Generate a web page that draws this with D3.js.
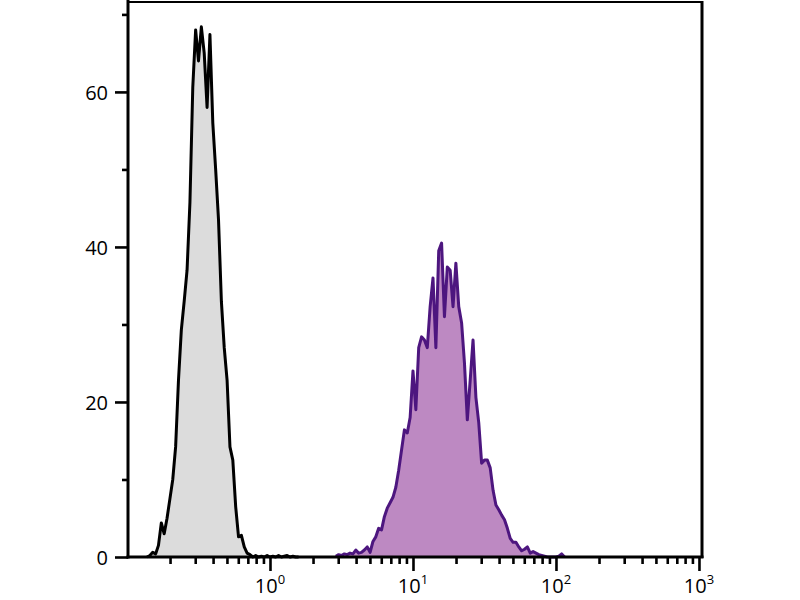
<html>
<head>
    <meta http-equiv='Content-Type' content='text/html; charset=utf-8'>
    <script src="https://d3js.org/d3.v7.min.js" charset="utf-8"></script>

    <style>

    body {
        margin: 0px;
        background: #ffffff;
    }

    svg text {
        font-family: "Open Sans", sans-serif;
        font-size: 20px;
        fill: #000000;
    }

    .axis path, .axis line {
        stroke: #000000;
        stroke-width: 2.6px;
    }

    .frame {
        fill: none;
        stroke: #000000;
    }

    </style>
</head>

<body>

    <script>

    var w = 800;
    var h = 600;

    /* Histogram bins are evenly spaced in log10(fluorescence); one count per bin */
    var binStep = 0.02;

    /* Unstained control (grey), first bin centre at log10 = -0.86 */
    var controlStart = -0.86;
    var controlCounts = [
        0, 0.2, 0.6, 0.4, 1.5, 4.4, 3.0, 5.0, 7.5, 10.0,
        14.2, 22.8, 29.3, 33.0, 37.0, 45.7, 60.6, 68.0, 64.0, 68.4,
        65.0, 58.0, 67.4, 56.0, 50.0, 43.5, 33.0, 27.0, 22.8, 14.2,
        12.5, 6.5, 2.6, 2.8, 1.3, 0.5, 0.3, 0, 0.2, 0,
        0.1, 0, 0.2, 0, 0.1, 0, 0.2, 0, 0.1, 0.2,
        0, 0.1, 0, 0
    ];

    /* Stained sample (purple), first bin centre at log10 = 0.46 */
    var stainedStart = 0.46;
    var stainedCounts = [
        0.1, 0.3, 0.2, 0.4, 0.3, 0.5, 0.4, 0.9, 0.5, 0.6,
        0.9, 1.3, 0.6, 2.0, 2.6, 3.7, 3.5, 5.2, 6.3, 7.0,
        7.7, 9.0, 11.2, 13.8, 16.4, 16.0, 18.0, 24.0, 19.0, 27.0,
        28.4, 28.0, 27.0, 32.3, 36.0, 27.0, 39.5, 40.5, 31.0, 37.4,
        37.0, 32.3, 37.9, 32.3, 30.2, 25.0, 17.7, 22.8, 28.0, 20.6,
        17.3, 12.1, 12.5, 12.5, 11.5, 8.6, 6.7, 6.1, 5.4, 4.8,
        3.7, 2.4, 1.9, 1.9, 1.3, 0.8, 1.0, 1.3, 0.5, 0.7,
        0.5, 0.3, 0.2, 0.1, 0, 0, 0, 0, 0.1, 0.4,
        0
    ];

    /* Axis ticks */
    var yMajorTicks = [0, 20, 40, 60];
    var yMinorTicks = [10, 30, 50, 70];
    var xMajorExponents = [0, 1, 2, 3];
    var xMinorMultipliers = [2, 3, 4, 5, 6, 7, 8, 9];
    var xMinorDecades = [0.1, 1, 10, 100];

    /* Scales */
    var x = d3.scaleLog().domain([0.1, 1050]).range([127, 702]);
    var y = d3.scaleLinear().domain([0, 71.6]).range([557, 2]);

    var svg = d3.select("body")
        .append("svg")
        .attr("width", w)
        .attr("height", h);

    function toPoints(start, counts) {
        return counts.map(function(c, i) {
            return { v: Math.pow(10, start + i * binStep), c: c };
        });
    }

    var area = d3.area()
        .x(function(d) { return x(d.v); })
        .y0(y(0))
        .y1(function(d) { return y(d.c); });

    var line = d3.line()
        .x(function(d) { return x(d.v); })
        .y(function(d) { return y(d.c); });

    var series = [
        { pts: toPoints(controlStart, controlCounts), fill: "#dcdcdc", stroke: "#000000" },
        { pts: toPoints(stainedStart, stainedCounts), fill: "#bd89c2", stroke: "#4d167f" }
    ];

    series.forEach(function(s) {
        svg.append("path")
            .datum(s.pts)
            .attr("d", area)
            .attr("fill", s.fill);
        svg.append("path")
            .datum(s.pts)
            .attr("d", line)
            .attr("fill", "none")
            .attr("stroke", s.stroke)
            .attr("stroke-width", 3)
            .attr("stroke-linejoin", "round");
    });

    /* Top and right frame */
    svg.append("line").attr("class", "frame")
        .attr("x1", 127).attr("x2", 703).attr("y1", 2).attr("y2", 2)
        .attr("stroke-width", 2);
    svg.append("line").attr("class", "frame")
        .attr("x1", 702).attr("x2", 702).attr("y1", 1).attr("y2", 558)
        .attr("stroke-width", 3);

    /* Y axis */
    var yAxis = svg.append("g")
        .attr("class", "axis")
        .attr("transform", "translate(128,0)")
        .call(d3.axisLeft(y).tickValues(yMajorTicks).tickSize(13).tickPadding(7).tickSizeOuter(0));
    yAxis.select(".domain").remove();
    yAxis.selectAll(".tick text").attr("dy", "0.36em");

    svg.append("g")
        .attr("class", "axis")
        .attr("transform", "translate(128,0)")
        .call(d3.axisLeft(y).tickValues(yMinorTicks).tickSize(6).tickFormat(""))
        .select(".domain").remove();

    svg.append("line")
        .attr("x1", 128).attr("x2", 128).attr("y1", 0).attr("y2", 558.5)
        .attr("stroke", "#000").attr("stroke-width", 3);

    /* X axis */
    var minorValues = [];
    xMinorDecades.forEach(function(d) {
        xMinorMultipliers.forEach(function(m) { minorValues.push(d * m); });
    });

    svg.append("g")
        .attr("class", "axis")
        .attr("transform", "translate(0,557)")
        .call(d3.axisBottom(x).tickValues(minorValues).tickSize(7).tickFormat(""))
        .select(".domain").remove();

    var xAxis = svg.append("g")
        .attr("class", "axis")
        .attr("transform", "translate(0,557)")
        .call(d3.axisBottom(x)
            .tickValues(xMajorExponents.map(function(e) { return Math.pow(10, e); }))
            .tickSize(14).tickFormat(""));
    xAxis.select(".domain").remove();

    svg.append("line")
        .attr("x1", 126.5).attr("x2", 703.5).attr("y1", 557).attr("y2", 557)
        .attr("stroke", "#000").attr("stroke-width", 3);

    var xLabels = svg.selectAll("text.xlabel")
        .data(xMajorExponents)
        .enter()
        .append("text")
        .attr("class", "xlabel")
        .attr("x", function(e) { return x(Math.pow(10, e)); })
        .attr("y", 593)
        .attr("text-anchor", "middle");
    xLabels.append("tspan").text("10");
    xLabels.append("tspan")
        .attr("dy", -9)
        .style("font-size", "13px")
        .text(function(e) { return String(e); });

    </script>

</body>
</html>
